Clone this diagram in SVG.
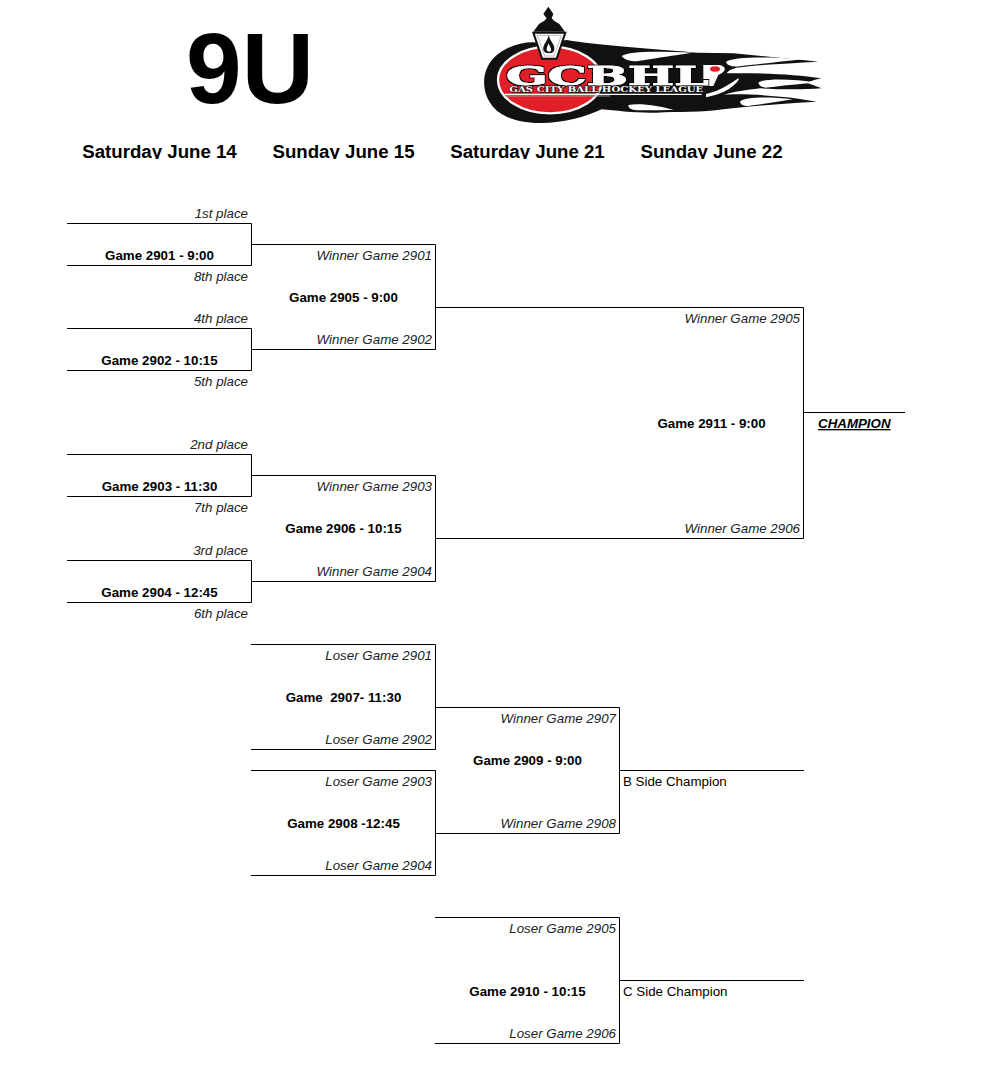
<svg xmlns="http://www.w3.org/2000/svg" width="984" height="1090" viewBox="0 0 984 1090">
<style>
text{font-family:"Liberation Sans",Arial,sans-serif;fill:#000;white-space:pre}
.h{font-size:18.67px;font-weight:700;text-anchor:middle}
.g{font-size:13.33px;font-weight:700;text-anchor:middle}
.l{font-size:13.33px;font-style:italic;text-anchor:end;fill:#222}
.r{font-size:13.33px}
.c{fill:none;stroke:#000;stroke-width:1}
</style>
<defs>
<clipPath id="hc"><rect x="0" y="130" width="984" height="29"/></clipPath>
<filter id="o1" x="-5%" y="-30%" width="110%" height="160%"><feMorphology in="SourceAlpha" operator="dilate" radius="2.500" result="b"/><feMerge><feMergeNode in="b"/><feMergeNode in="SourceGraphic"/></feMerge></filter>
</defs>
<rect width="984" height="1090" fill="#fff"/>
<g id="title"><text x="250" y="102.500" font-size="100" font-weight="700" text-anchor="middle">9U</text></g>
<g id="logo" transform="translate(470 0) scale(.33333)">
<path fill="#111" d="M290,120C380,135 520,145 680,158L790,160C880,168 970,178 1045,185C950,190 860,195 800,203C780,208 775,213 770,220C860,218 970,222 1055,235C1030,240 1020,245 1010,248L1055,265C990,270 920,268 870,265C830,270 790,275 760,285C800,280 900,285 985,296L1040,305C930,310 830,320 760,328C700,338 620,335 560,338C500,340 440,332 395,328C330,360 200,390 110,350C40,320 20,230 70,175C110,135 170,120 220,130Z"/>
<path fill="#fff" d="M455,168C480,152 560,154 670,158C600,168 530,178 500,184C480,184 462,178 455,168ZM768,186C785,170 900,170 995,178C920,187 840,195 800,200C785,200 772,196 768,186ZM865,248C880,234 970,236 1040,248C970,252 920,260 885,263C875,260 866,256 865,248ZM810,305C825,290 900,290 968,298C920,307 860,314 835,318C820,318 812,314 810,305ZM475,315C510,308 570,318 612,330C570,330 520,332 495,330C480,328 475,322 475,315ZM700,195H750C770,200 770,215 745,225L730,258H700ZM708,282C745,275 775,255 805,235C810,238 800,250 780,265C765,275 745,285 708,292Z"/>
<ellipse cx="240" cy="240" rx="156" ry="100" fill="#e21f26" stroke="#fff" stroke-width="7"/>
<path fill="none" stroke="#fff" stroke-width="4" d="M104,283H695"/>
<path fill="none" stroke="#999" stroke-width="3" d="M104,288H420"/>
<ellipse cx="735" cy="207" rx="15" ry="8" fill="#e21f26"/>
<g filter="url(#o1)"><text x="108" y="254" font-size="80" font-weight="700" textLength="608" lengthAdjust="spacingAndGlyphs" style="font-family:'DejaVu Serif',serif;fill:#fff;stroke:#fff;stroke-width:2">GCBHL</text></g>
<text x="118" y="276" font-size="24" font-weight="700" textLength="582" lengthAdjust="spacingAndGlyphs" style="font-family:'DejaVu Serif',serif;fill:#fff;stroke:#111;stroke-width:4;paint-order:stroke">GAS CITY BALL HOCKEY LEAGUE</text>
<path fill="#111" d="M235,20L242,30L250,42L245,55L252,62L268,72L285,95H190L207,72L223,62L230,55L220,42L228,30Z"/>
<path fill="#fff" stroke="#111" stroke-width="6" d="M190,98H286L260,176H216Z"/>
<path fill="none" stroke="#999" stroke-width="2" d="M202,106H274L252,168H224Z"/>
<path fill="#111" d="M236,106C240,125 258,135 252,152C249,162 225,162 221,152C215,138 232,125 236,106ZM236,130C232,140 228,146 231,152C234,156 241,156 243,152C245,146 239,140 236,130Z" fill-rule="evenodd"/>
</g>
<g id="headers" clip-path="url(#hc)">
<text class="h" x="159.500" y="158">Saturday June 14</text>
<text class="h" x="343.500" y="158">Sunday June 15</text>
<text class="h" x="527.500" y="158">Saturday June 21</text>
<text class="h" x="711.500" y="158">Sunday June 22</text>
</g>
<g id="connectors">
<path class="c" d="M67,223.500H251.500V265.500H67M67,328.500H251.500V370.500H67M67,454.500H251.500V496.500H67M67,560.500H251.500V602.500H67"/>
<path class="c" d="M251.500,244.500H435.500V349.500H251.500M251.500,475.500H435.500V581.500H251.500"/>
<path class="c" d="M435.500,307.500H803.500V538.500H435.500M803.500,412.500H905"/>
<path class="c" d="M251,644.500H435.500V749.500H251M251,770.500H435.500V875.500H251"/>
<path class="c" d="M435.500,707.500H619.500V833.500H435.500M619.500,770.500H804"/>
<path class="c" d="M435,917.500H619.500V1043.500H435M619.500,980.500H804"/>
</g>
<g id="game-2901"><text class="l" x="248" y="218">1st place</text><text class="g" x="159.500" y="260">Game 2901 - 9:00</text><text class="l" x="248" y="281">8th place</text></g>
<g id="game-2902"><text class="l" x="248" y="323">4th place</text><text class="g" x="159.500" y="365">Game 2902 - 10:15</text><text class="l" x="248" y="386">5th place</text></g>
<g id="game-2903"><text class="l" x="248" y="449">2nd place</text><text class="g" x="159.500" y="491">Game 2903 - 11:30</text><text class="l" x="248" y="512">7th place</text></g>
<g id="game-2904"><text class="l" x="248" y="555">3rd place</text><text class="g" x="159.500" y="597">Game 2904 - 12:45</text><text class="l" x="248" y="618">6th place</text></g>
<g id="game-2905"><text class="l" x="432" y="260">Winner Game 2901</text><text class="g" x="343.500" y="302">Game 2905 - 9:00</text><text class="l" x="432" y="344">Winner Game 2902</text></g>
<g id="game-2906"><text class="l" x="432" y="491">Winner Game 2903</text><text class="g" x="343.500" y="533">Game 2906 - 10:15</text><text class="l" x="432" y="576">Winner Game 2904</text></g>
<g id="game-2907"><text class="l" x="432" y="660">Loser Game 2901</text><text class="g" x="343.500" y="702">Game  2907- 11:30</text><text class="l" x="432" y="744">Loser Game 2902</text></g>
<g id="game-2908"><text class="l" x="432" y="786">Loser Game 2903</text><text class="g" x="343.500" y="828">Game 2908 -12:45</text><text class="l" x="432" y="870">Loser Game 2904</text></g>
<g id="game-2909"><text class="l" x="616" y="723">Winner Game 2907</text><text class="g" x="527.500" y="765">Game 2909 - 9:00</text><text class="l" x="616" y="828">Winner Game 2908</text></g>
<g id="game-2910"><text class="l" x="616" y="933">Loser Game 2905</text><text class="g" x="527.500" y="996">Game 2910 - 10:15</text><text class="l" x="616" y="1038">Loser Game 2906</text></g>
<g id="game-2911"><text class="l" x="800" y="323">Winner Game 2905</text><text class="g" x="711.500" y="428">Game 2911 - 9:00</text><text class="l" x="800" y="533">Winner Game 2906</text></g>
<g id="champion"><text x="818" y="428" font-size="13.33" font-weight="700" font-style="italic" text-decoration="underline">CHAMPION</text></g>
<g id="b-side"><text class="r" x="623" y="786">B Side Champion</text></g>
<g id="c-side"><text class="r" x="623" y="996">C Side Champion</text></g>
</svg>
